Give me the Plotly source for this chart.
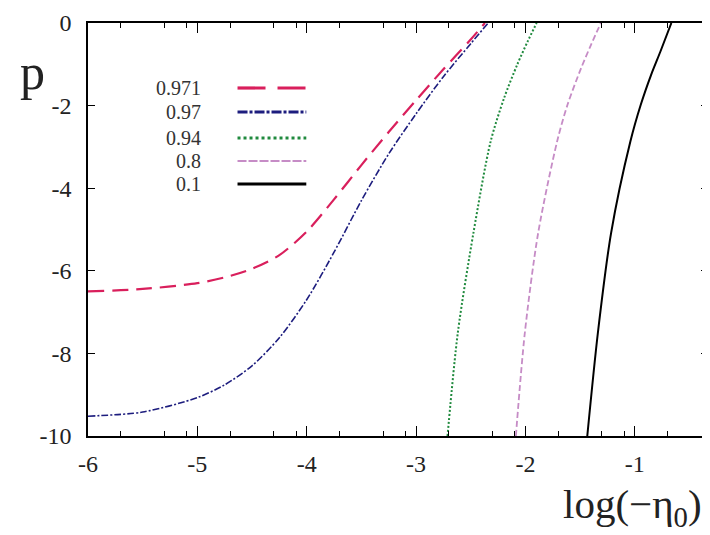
import numpy as np
import plotly.graph_objects as go

# ---- data ----
series_labels = ["0.971", "0.97", "0.94", "0.8", "0.1"]

x_0971 = [-6.0, -5.5, -5.0, -4.75, -4.5, -4.25, -4.0, -3.75, -3.5, -3.25, -3.0, -2.75, -2.5, -2.37]
p_0971 = [-6.50, -6.44, -6.30, -6.16, -5.95, -5.62, -5.05, -4.27, -3.44, -2.64, -1.87, -1.12, -0.40, 0.0]

x_097 = [-6.0, -5.5, -5.0, -4.75, -4.5, -4.25, -4.0, -3.75, -3.5, -3.25, -3.0, -2.75, -2.5, -2.34]
p_097 = [-9.52, -9.42, -9.07, -8.76, -8.30, -7.62, -6.70, -5.55, -4.30, -3.17, -2.20, -1.30, -0.50, 0.0]

x_094 = [-2.712, -2.618, -2.475, -2.318, -2.195, -2.075, -1.980, -1.897]
p_094 = [-10.0, -7.50, -5.08, -2.87, -1.82, -1.01, -0.45, 0.0]

x_08 = [-2.087, -2.005, -1.883, -1.710, -1.615, -1.490, -1.400, -1.310]
p_08 = [-10.0, -7.50, -5.08, -2.87, -1.98, -1.09, -0.53, 0.0]

x_01 = [-1.434, -1.337, -1.216, -1.040, -0.945, -0.851, -0.765, -0.665]
p_01 = [-10.0, -7.50, -5.08, -2.87, -1.98, -1.26, -0.69, 0.0]

x_ticks = [-6, -5, -4, -3, -2, -1]
y_ticks = [0, -2, -4, -6, -8, -10]

# ---- styles ----
FONT = "Liberation Serif, Times New Roman, serif"
styles = [
    dict(color="#d91f5c", width=2.2, dash="16px,8px"),
    dict(color="#1d1d7e", width=1.6, dash="7px,2px,2px,2px"),
    dict(color="#208a3e", width=2.0, dash="2px,2px"),
    dict(color="#c68cc6", width=1.8, dash="6px,3px"),
    dict(color="#000000", width=2.0, dash="solid"),
]
legend_styles = [
    dict(color="#d91f5c", width=3.2, dash="28px,12px"),
    dict(color="#1d1d7e", width=3.0, dash="10px,2px,3px,2px"),
    dict(color="#208a3e", width=3.0, dash="3px,3px"),
    dict(color="#c68cc6", width=1.8, dash="9px,2px"),
    dict(color="#000000", width=3.2, dash="solid"),
]
xs = [x_0971, x_097, x_094, x_08, x_01]
ps = [p_0971, p_097, p_094, p_08, p_01]

fig = go.Figure()
for lab, x, p, st in zip(series_labels, xs, ps, styles):
    fig.add_trace(go.Scatter(x=x, y=p, mode="lines", name=lab,
                             line=dict(color=st["color"], width=st["width"], dash=st["dash"],
                                       shape="spline", smoothing=0.8),
                             showlegend=False))

# minor ticks at log10(2,5,8) offsets within each decade
minor_vals = []
for n in range(-6, 0):
    for m in (2, 5, 8):
        minor_vals.append(n + np.log10(m))

# page body adds an 8px offset, so the figure is 8px smaller than the window
W, H = 702, 527
ML, MR, MT, MB = 80, 0, 15, 99

fig.update_layout(
    width=W, height=H,
    margin=dict(l=ML, r=MR, t=MT, b=MB),
    paper_bgcolor="white", plot_bgcolor="white",
    font=dict(family=FONT, color="#222222", size=24),
    xaxis=dict(range=[-6, -0.33], tickvals=x_ticks, ticktext=[str(v) for v in x_ticks],
               ticks="inside", ticklen=10, tickwidth=1.3, tickcolor="black",
               showline=True, linecolor="black", linewidth=1.6, mirror="allticks",
               showgrid=False, zeroline=False,
               minor=dict(tickvals=minor_vals, ticks="inside", ticklen=5, tickwidth=1.2,
                          tickcolor="black", showgrid=False),
               tickfont=dict(family=FONT, size=24, color="#222222"), ticklabelstandoff=5),
    yaxis=dict(range=[-10, 0], tickvals=y_ticks, ticktext=[str(v) for v in y_ticks],
               ticks="inside", ticklen=7, tickwidth=1.3, tickcolor="black",
               showline=True, linecolor="black", linewidth=1.6, mirror="allticks",
               showgrid=False, zeroline=False,
               tickfont=dict(family=FONT, size=24, color="#222222"), ticklabelstandoff=10),
)

pw, ph = W - ML - MR, H - MT - MB

# axis titles
fig.add_annotation(text="log(\u2212\u03b7<sub>0</sub>)", xref="paper", yref="paper",
                   x=0.9936, y=-0.172, xanchor="right", yanchor="middle", showarrow=False,
                   font=dict(family=FONT, size=41, color="#222222"))
fig.add_annotation(text="p", xref="paper", yref="paper",
                   x=-0.09, y=0.882, xanchor="center", yanchor="middle", showarrow=False,
                   font=dict(family=FONT, size=50, color="#222222"))

# manual legend (labels left, line samples right); positions in page pixels
leg_y_px = [88, 112, 138, 161, 184]
for lab, st, ypx in zip(series_labels, legend_styles, leg_y_px):
    yp = (H - MB - (ypx - 8)) / ph
    fig.add_annotation(text=lab, xref="paper", yref="paper",
                       x=(203 - 8 - ML) / pw, y=yp, xanchor="right", yanchor="middle",
                       showarrow=False, font=dict(family=FONT, size=20, color="#333333"))
    fig.add_shape(type="line", xref="paper", yref="paper",
                  x0=(238 - 8 - ML) / pw, x1=(307 - 8 - ML) / pw, y0=yp, y1=yp,
                  line=dict(color=st["color"], width=st["width"], dash=st["dash"]))

fig.write_html("out.html")
